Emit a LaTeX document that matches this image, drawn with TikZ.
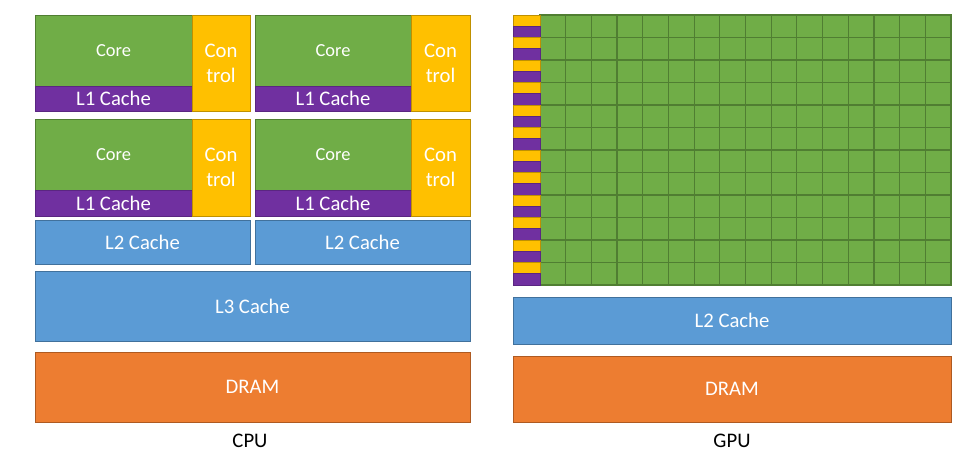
\documentclass[tikz,border=0pt]{standalone}
\usepackage{fontspec}
\setmainfont{Carlito}
\definecolor{cgreen}{HTML}{70AD47}
\definecolor{cgreenb}{HTML}{507E32}
\definecolor{cyellow}{HTML}{FFC000}
\definecolor{cyellowb}{HTML}{BF9000}
\definecolor{cpurple}{HTML}{7030A0}
\definecolor{cpurpleb}{HTML}{5A2681}
\definecolor{cblue}{HTML}{5B9BD5}
\definecolor{cblueb}{HTML}{41719C}
\definecolor{corange}{HTML}{ED7D31}
\definecolor{corangeb}{HTML}{AE5A21}
\newcommand\blk[7]{\node[#6, minimum width={(#4-#2)*1pt}, minimum height={(#5-#3)*1pt}] (#1) at ({(#2+#4)/2},{(#3+#5)/2}) {#7};}
\tikzset{
  box/.style={rectangle, inner sep=0pt, outer sep=0pt, line width=0.8pt, text=white,
    font=\fontsize{20.7}{25}\selectfont, align=center},
  corebox/.style={box, fill=cgreen, draw=cgreenb, font=\fontsize{18.4}{22}\selectfont},
  lonebox/.style={box, fill=cpurple, draw=cpurpleb},
  ctrlbox/.style={box, fill=cyellow, draw=cyellowb},
  cachebox/.style={box, fill=cblue, draw=cblueb},
  drambox/.style={box, fill=corange, draw=corangeb},
  cell/.style={rectangle, inner sep=0pt, outer sep=0pt, line width=0.6pt},
  lbl/.style={text=black, font=\fontsize{20.7}{25}\selectfont},
}
\begin{document}
\begin{tikzpicture}[x=1pt,y=-1pt]
\useasboundingbox (0,0) rectangle (979,466);
% ---------- CPU ----------
\blk{coreA}{35}{15}{192}{86}{corebox}{Core}
\blk{lA}{35}{86}{192}{111}{lonebox}{L1 Cache}
\blk{ctA}{192}{15}{250}{111}{ctrlbox}{Con\\trol}
\blk{coreB}{255}{15}{411}{86}{corebox}{Core}
\blk{lB}{255}{86}{411}{111}{lonebox}{L1 Cache}
\blk{ctB}{411}{15}{470}{111}{ctrlbox}{Con\\trol}
\blk{coreC}{35}{119}{192}{190}{corebox}{Core}
\blk{lC}{35}{190}{192}{216}{lonebox}{L1 Cache}
\blk{ctC}{192}{119}{250}{216}{ctrlbox}{Con\\trol}
\blk{coreD}{255}{119}{411}{190}{corebox}{Core}
\blk{lD}{255}{190}{411}{216}{lonebox}{L1 Cache}
\blk{ctD}{411}{119}{470}{216}{ctrlbox}{Con\\trol}
\blk{ltwoA}{35}{220}{250}{264}{cachebox}{L2 Cache}
\blk{ltwoB}{255}{220}{470}{264}{cachebox}{L2 Cache}
\blk{lthree}{35}{271}{470}{341}{cachebox}{L3 Cache}
\blk{dramC}{35}{352}{470}{422}{drambox}{DRAM}
\node[lbl] (cpu) at (250,441) {CPU};
% ---------- GPU ----------
\blk{grid}{540}{15}{951}{285}{box}{}
\fill[cgreen] (grid.north west) rectangle (grid.south east);
\foreach \c in {1,...,15} {
  \draw[cgreenb, line width=1.2pt] ({540+\c*25.6875},15) -- ({540+\c*25.6875},285);
}
\foreach \r in {1,...,11} {
  \draw[cgreenb, line width=1.2pt] (540,{15+\r*22.5}) -- (951,{15+\r*22.5});
}
\draw[cgreenb, line width=1.2pt] (grid.north west) rectangle (grid.south east);
\foreach \r in {0,...,11} {
  \node[cell, fill=cyellow, draw=cyellowb, minimum width=27pt, minimum height=11.25pt]
    (y\r) at (526.5,{15+\r*22.5+5.625}) {};
  \node[cell, fill=cpurple, draw=cpurpleb, minimum width=27pt, minimum height=11.25pt]
    (p\r) at (526.5,{15+\r*22.5+16.875}) {};
}
\blk{ltwoG}{513}{297}{951}{344}{cachebox}{L2 Cache}
\blk{dramG}{513}{356}{951}{422}{drambox}{DRAM}
\node[lbl] (gpu) at (732,441) {GPU};
\end{tikzpicture}
\end{document}
